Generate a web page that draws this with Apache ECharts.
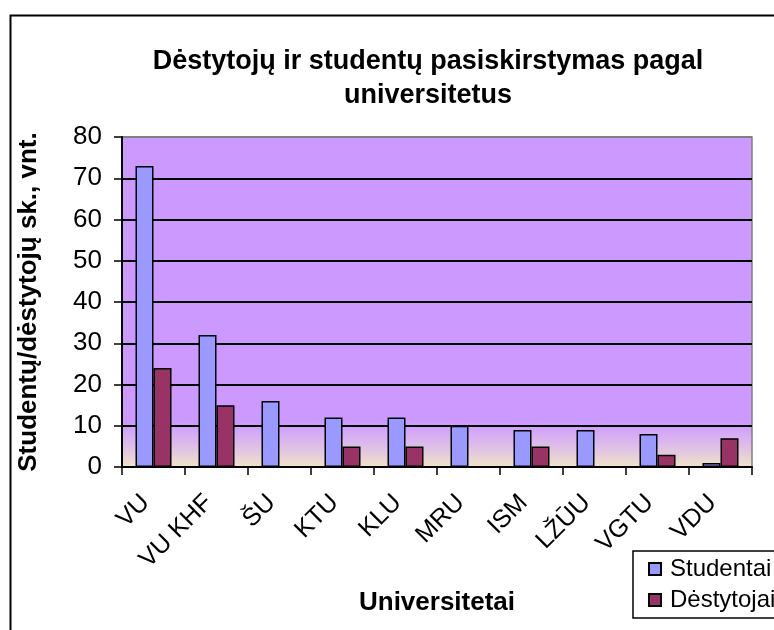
<!DOCTYPE html>
<html>
<head>
<meta charset="utf-8">
<script src="https://cdn.jsdelivr.net/npm/echarts@6/dist/echarts.min.js"></script>
<style>
  html, body { margin: 0; padding: 0; background: #fff; }
  #chart { width: 774px; height: 630px; }
</style>
</head>
<body>
<div id="chart"></div>
<script>
// data
var universitetai = ['VU', 'VU KHF', 'ŠU', 'KTU', 'KLU', 'MRU', 'ISM', 'LŽŪU', 'VGTU', 'VDU'];
var studentai = [73, 32, 16, 12, 12, 10, 9, 9, 8, 1];
var destytojai = [24, 15, 0, 5, 5, 0, 5, 0, 3, 7];
var yTicks = [0, 10, 20, 30, 40, 50, 60, 70, 80];

var font = 'Liberation Sans, Arial, sans-serif';

var chart = echarts.init(document.getElementById('chart'));

// gridlines black, the top one (80) grey like the plot border
var gridColors = yTicks.map(function (v, i) {
  return i === yTicks.length - 1 ? '#808080' : '#000';
});

var option = {
  backgroundColor: '#fff',
  animation: false,
  title: {
    text: 'Dėstytojų ir studentų pasiskirstymas pagal\nuniversitetus',
    left: 423,
    top: 40,
    textAlign: 'center',
    textStyle: {
      fontFamily: font,
      fontSize: 27,
      fontWeight: 'bold',
      color: '#000',
      lineHeight: 34
    }
  },
  legend: {
    orient: 'vertical',
    left: 633,
    top: 551,
    padding: [6, 10, 6, 15],
    itemWidth: 12,
    itemHeight: 12,
    itemGap: 7,
    icon: 'rect',
    borderColor: '#000',
    borderWidth: 1.5,
    backgroundColor: '#fff',
    textStyle: { fontFamily: font, fontSize: 24, color: '#000', padding: [0, 0, 0, 4] },
    data: ['Studentai', 'Dėstytojai']
  },
  grid: {
    left: 122,
    right: 22,
    top: 137,
    bottom: 163,
    show: true,
    borderColor: '#808080',
    borderWidth: 1.5,
    backgroundColor: new echarts.graphic.LinearGradient(0, 0, 0, 1, [
      { offset: 0, color: '#CC99FF' },
      { offset: 0.86, color: '#CC99FF' },
      { offset: 0.93, color: '#DDBBEA' },
      { offset: 1, color: '#F0E4C6' }
    ])
  },
  xAxis: {
    type: 'category',
    data: universitetai,
    name: 'Universitetai',
    nameLocation: 'middle',
    nameGap: 123,
    nameTextStyle: { fontFamily: font, fontSize: 26, fontWeight: 'bold', color: '#000' },
    axisLine: { lineStyle: { color: '#000', width: 2 } },
    axisTick: { show: true, length: 8, lineStyle: { color: '#000', width: 1.5 } },
    axisLabel: {
      rotate: 45,
      margin: 24,
      padding: [0, 11, 0, 0],
      fontFamily: font,
      fontSize: 25,
      color: '#000',
      interval: 0
    }
  },
  yAxis: {
    type: 'value',
    min: 0,
    max: 80,
    interval: 10,
    name: 'Studentų/dėstytojų sk., vnt.',
    nameLocation: 'middle',
    nameGap: 80,
    nameTextStyle: { fontFamily: font, fontSize: 26, fontWeight: 'bold', color: '#000' },
    axisLine: { show: true, lineStyle: { color: '#000', width: 2 } },
    axisTick: { show: true, length: 8, lineStyle: { color: '#000', width: 1.5 } },
    axisLabel: { fontFamily: font, fontSize: 26, color: '#000', margin: 20 },
    splitLine: { show: true, lineStyle: { color: gridColors, width: 2 } }
  },
  series: [
    {
      name: 'Studentai',
      type: 'bar',
      data: studentai,
      barWidth: 18,
      barGap: '0%',
      itemStyle: { color: '#9999FF', borderColor: '#000', borderWidth: 1.5 }
    },
    {
      name: 'Dėstytojai',
      type: 'bar',
      data: destytojai,
      barWidth: 18,
      itemStyle: { color: '#993366', borderColor: '#000', borderWidth: 1.5 }
    }
  ],
  graphic: [
    {
      type: 'rect',
      left: 8,
      top: 13,
      shape: { width: 800, height: 700 },
      style: { fill: 'none', stroke: '#000', lineWidth: 2 },
      silent: true,
      z: -1
    }
  ]
};

chart.setOption(option);
</script>
</body>
</html>
